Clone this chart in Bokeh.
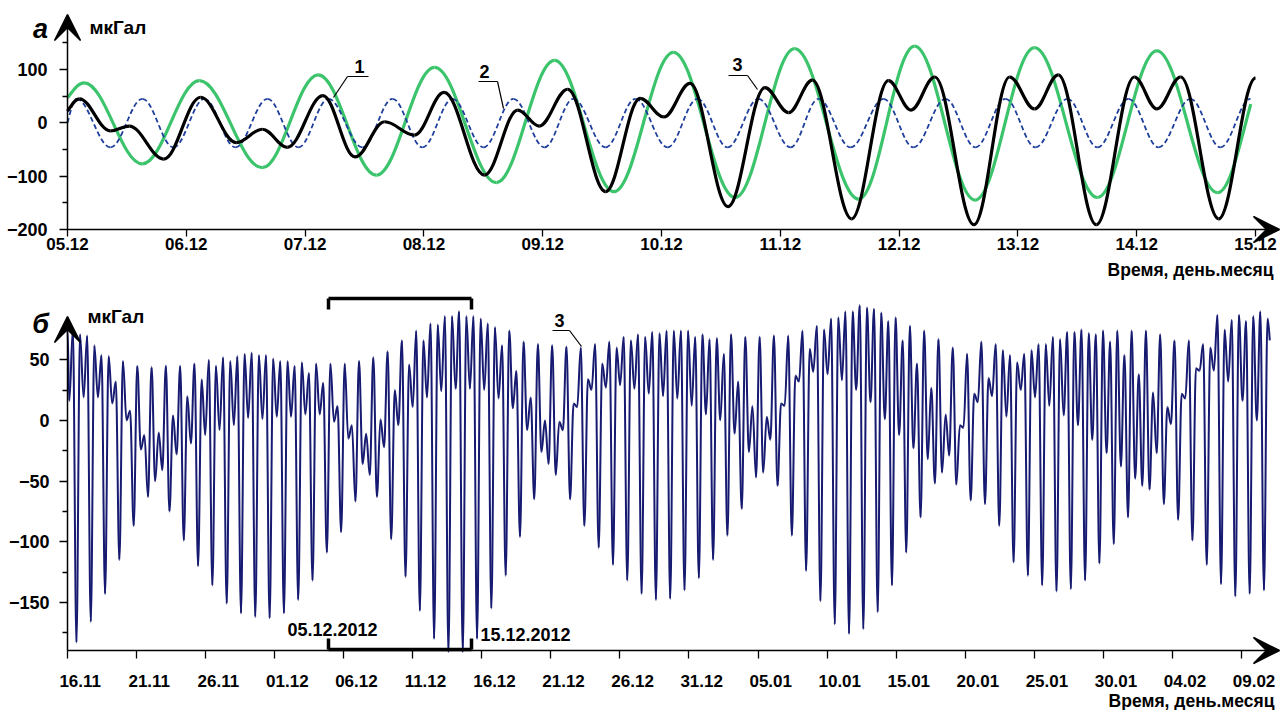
import numpy as np
from bokeh.plotting import figure
from bokeh.layouts import column
from bokeh.models import Arrow, VeeHead, Label, FixedTicker, ColumnDataSource
from bokeh.embed import file_html
from bokeh.resources import INLINE

# ================= panel "а": 05.12 - 15.12 (days from 05.12) =================
top_ticks = list(range(11))
top_tick_labels = ["05.12", "06.12", "07.12", "08.12", "09.12", "10.12",
                   "11.12", "12.12", "13.12", "14.12", "15.12"]

# curve 1 (green) - extrema
green_t = [0.0, 0.14, 0.63, 1.11, 1.64, 2.11, 2.60, 3.09, 3.61, 4.10, 4.60,
           5.10, 5.62, 6.12, 6.66, 7.13, 7.64, 8.14, 8.67, 9.17, 9.68, 9.96]
green_v = [47, 75, -77, 79, -84, 90, -98, 104, -112, 117, -129,
           132, -140, 139, -143, 144, -145, 141, -140, 135, -131, 35]

# curve 2 (blue dashed)
blue_t = [0.0, 0.076, 0.362, 0.631, 0.892, 1.153, 1.414, 1.684, 1.944, 2.197,
          2.483, 2.736, 2.988, 3.241, 3.502, 3.754, 4.015, 4.259, 4.529, 4.781,
          5.051, 5.303, 5.556, 5.816, 6.086, 6.322, 6.591, 6.869, 7.121, 7.391,
          7.643, 7.896, 8.148, 8.418, 8.670, 8.931, 9.184, 9.453, 9.705, 9.958]
blue_v = [0, 45, -46, 45, -46, 45, -46, 45, -46, 45,
          -46, 45, -46, 45, -46, 45, -46, 45, -46, 45,
          -46, 45, -46, 45, -46, 45, -46, 45, -46, 45,
          -46, 45, -46, 45, -46, 45, -46, 45, -46, 45]

# curve 3 (black)
black_t = [0.0, 0.10, 0.36, 0.52, 0.81, 1.12, 1.42, 1.64, 1.85, 2.15,
           2.42, 2.67, 2.92, 3.17, 3.51, 3.79, 3.97, 4.21, 4.53, 4.82,
           5.02, 5.24, 5.56, 5.87, 6.07, 6.27, 6.60, 6.91, 7.10, 7.30,
           7.63, 7.93, 8.14, 8.34, 8.66, 8.98, 9.17, 9.37, 9.69, 10.0]
black_v = [22, 45, -15, -6, -68, 48, -37, -12, -46, 51,
           -64, 2, -23, 57, -98, 24, -6, 63, -129, 46,
           11, 74, -157, 66, 19, 80, -180, 79, 24, 86,
           -191, 86, 26, 90, -191, 86, 26, 86, -180, 84]

# ================= panel "б": 16.11.2012 - 09.02.2013 (days from 16.11) =================
bot_tick_days = [0, 5, 10, 15, 20, 25, 30, 35, 40, 45, 50, 55, 60, 65, 70, 75, 80, 85]
bot_tick_labels = ["16.11", "21.11", "26.11", "01.12", "06.12", "11.12", "16.12",
                   "21.12", "26.12", "31.12", "05.01", "10.01", "15.01", "20.01",
                   "25.01", "30.01", "04.02", "09.02"]
label_shift_days = 0.92          # tick labels sit a little right of their ticks

b_first_low_day = 0.13           # first semidiurnal low
b_semidiurnal = 0.518            # spacing of successive lows (days)
b_start_value = 75
b_end_day, b_end_value = 87.06, 66

# successive semidiurnal lows (мкГал)
b_lows = [16, -183, 19, -166, 19, -143, 14, -115, 0, -87, -24, -63, -50, -41, -75,
          -28, -99, -19, -120, -12, -136, -8, -151, -4, -159, 2, -162, 1, -163,
          3, -159, 3, -148, 5, -132, 5, -109, -1, -92, -15, -67, -36, -45, -63, -22, -98, -4, -129,
          11, -157, 19, -180, 24, -191, 26, -191, 26, -180,
          25, -155, 18, -128, 10,
          -96, -8, -65, -26, -36, -45, -8, -65, 11, -87, 25, -105, 27, -119, 29, -132, 26,
          -143, 22, -148, 20, -147, 18, -140, 12, -130, 5, -115, 0, -95, -11, -73, -26,
          -47, -43, -16, -54,
          12, -95, 32, -124, 40, -149, 38, -168, 33, -176, 25, -172, 15, -158, 1, -136,
          -12, -109, -23, -80, -32, -52, -43, -29, -53, -6, -66, 15, -69, 20, -87, 3,
          -117, 25, -128, 19, -136,
          12, -141, 4, -139, -4, -132, -16, -118, -27, -102, -38, -80, -48, -54, -57, -27,
          -69, -3, -82, 18, -99, 41, -119, 41, -135, 32, -145, 16, -143, 0, -140]
# the high that follows each low
b_highs = [75, 71, 70, 62, 54, 53, 32, 49, 8, 45, -12, 44, -10, 45, 4, 45, 20, 47, 34, 50,
           45, 52, 49, 53, 55, 56, 54, 54,
           51, 49, 49, 45, 48, 39, 47, 31, 47, 12, 47, -4, 49, -11, 52, 1, 57, 25, 66,
           46, 74, 66, 80, 79, 86, 86, 90, 86, 86, 84,
           80, 77, 62, 74, 41,
           65, 19, 63, 0, 62, -1, 61, 14, 60, 34, 63, 47, 65, 60, 69, 66, 71, 69, 73, 72,
           74, 74, 74, 74, 69, 71, 67, 68, 55, 71, 32, 69, 12, 69, 3, 70, 14,
           70, 37, 74, 59, 78, 75, 84, 85, 90, 90, 95, 93, 92, 89, 82, 85, 66, 78, 47, 74,
           27, 67, 5, 60, -4, 55, 22, 65, 35, 63, 58, 54, 48, 55, 58, 63,
           63, 69, 67, 73, 73, 75, 72, 71, 74, 65, 74, 54, 74, 38, 74, 23, 71, 11, 66, 22,
           66, 43, 63, 60, 87, 75, 83, 87, 82, 86, 90, 84]

# ---------------------------------------------------------------------------------
FONT = "Liberation Sans"
GREEN = "#3cc46c"
BLUE = "#1f3f9c"
NAVY = "#161a70"
W = 1280
TOP_H = 290
BOT_H = 420


def bezier_cols(t, v, start_ext=True, end_ext=True):
    """Smooth cosine-like segments between successive extrema."""
    t = np.asarray(t, float)
    v = np.asarray(v, float)
    x0, x1, y0, y1 = t[:-1], t[1:], v[:-1], v[1:]
    d = (x1 - x0) * 0.3634
    cy0, cy1 = y0.copy(), y1.copy()
    if not start_ext:
        cy0[0] = y0[0] + 0.5 * (y1[0] - y0[0])
    if not end_ext:
        cy1[-1] = y1[-1] - 0.5 * (y1[-1] - y0[-1])
    return ColumnDataSource(dict(x0=x0, y0=y0, x1=x1, y1=y1,
                                 cx0=x0 + d, cy0=cy0, cx1=x1 - d, cy1=cy1))


def style_axes(p):
    for ax in (p.xaxis[0], p.yaxis[0]):
        ax.axis_line_color = None
        ax.major_tick_line_color = "black"
        ax.minor_tick_line_color = "black"
        ax.major_tick_line_width = 1.3
        ax.minor_tick_line_width = 1.3
        ax.major_tick_in = 0
        ax.minor_tick_in = 0
        ax.major_label_text_font = FONT
        ax.major_label_text_font_style = "bold"
        ax.major_label_text_font_size = "17px"
        ax.major_label_text_color = "black"
    p.xgrid.visible = False
    p.ygrid.visible = False
    p.outline_line_color = None
    p.background_fill_color = "white"
    p.border_fill_color = "white"


def seg(p, xa, ya, xb, yb, w=1.2):
    p.add_layout(Arrow(end=None, start=None, x_start=xa, y_start=ya, x_end=xb, y_end=yb,
                       line_color="black", line_width=w))


def axis_arrow(p, xa, ya, xb, yb, size):
    p.add_layout(Arrow(end=VeeHead(size=size, fill_color="black", line_color="black", line_width=1.5),
                       x_start=xa, y_start=ya, x_end=xb, y_end=yb,
                       line_color="black", line_width=1.5))


def text(p, x, y, s, size="17px", style="bold", align="left"):
    p.add_layout(Label(x=x, y=y, text=s, text_font=FONT, text_font_style=style,
                       text_font_size=size, text_align=align, text_baseline="middle",
                       text_color="black"))


# ================= top figure (page pixels 0..290) =================
def tx(px):
    return (px - 67) / 118.8


def ty(py):
    return (229 - py) / 0.5333 - 200


top = figure(width=W, height=TOP_H, x_range=(tx(0), tx(W)), y_range=(ty(TOP_H), ty(0)),
             output_backend="svg", toolbar_location=None,
             min_border_left=0, min_border_right=0, min_border_top=0, min_border_bottom=0)
style_axes(top)
top.xaxis.fixed_location = -200
top.yaxis.fixed_location = 0
top.xaxis.ticker = FixedTicker(ticks=top_ticks)
top.xaxis.major_label_overrides = {k: s for k, s in zip(top_ticks, top_tick_labels)}
top.xaxis.major_tick_out = 7
top.xaxis.major_label_standoff = 1
top.yaxis.ticker = FixedTicker(ticks=[-200, -100, 0, 100], minor_ticks=[-150, -50, 50, 150])
top.yaxis.major_tick_out = 8
top.yaxis.minor_tick_out = 5
top.yaxis.major_label_standoff = 12
top.yaxis.major_label_text_font_size = "18px"

top.bezier(source=bezier_cols(green_t, green_v, False, False), x0="x0", y0="y0", x1="x1", y1="y1",
           cx0="cx0", cy0="cy0", cx1="cx1", cy1="cy1", line_color=GREEN, line_width=3.2)
top.bezier(source=bezier_cols(blue_t, blue_v, False, True), x0="x0", y0="y0", x1="x1", y1="y1",
           cx0="cx0", cy0="cy0", cx1="cx1", cy1="cy1", line_color=BLUE, line_width=1.8,
           line_dash="5 3")
top.bezier(source=bezier_cols(black_t, black_v, False, True), x0="x0", y0="y0", x1="x1", y1="y1",
           cx0="cx0", cy0="cy0", cx1="cx1", cy1="cy1", line_color="black", line_width=3.2)

axis_arrow(top, 0, -200, tx(1279), -200, 26)
axis_arrow(top, 0, -200, 0, ty(14), 26)
text(top, tx(40), ty(28), "а", size="27px", style="bold italic", align="center")
text(top, tx(89), ty(27), "мкГал", size="19px")
text(top, tx(1273), ty(269), "Время, день.месяц", size="17.5px", align="right")
text(top, tx(359), ty(66), "1", size="18px", align="center")
seg(top, tx(347), ty(76), tx(368), ty(76))
seg(top, tx(347), ty(76), tx(333), ty(97))
text(top, tx(484), ty(71), "2", size="18px", align="center")
seg(top, tx(478), ty(81), tx(497), ty(81))
seg(top, tx(497), ty(81), tx(503), ty(108))
text(top, tx(737), ty(64), "3", size="18px", align="center")
seg(top, tx(728), ty(75), tx(747), ty(75))
seg(top, tx(747), ty(75), tx(757), ty(89))

# ================= bottom figure (page pixels 290..710) =================
B_Y0 = -189.5


def bx(px):
    return (px - 67) / 13.81


def by(py):
    return B_Y0 + (650 - py) / 1.214


bot = figure(width=W, height=BOT_H, x_range=(bx(0), bx(W)), y_range=(by(TOP_H + BOT_H), by(TOP_H)),
             output_backend="svg", toolbar_location=None,
             min_border_left=0, min_border_right=0, min_border_top=0, min_border_bottom=0)
style_axes(bot)
bot.xaxis.fixed_location = B_Y0
bot.yaxis.fixed_location = 0
lab_pos = [d + label_shift_days for d in bot_tick_days]
bot.xaxis.ticker = FixedTicker(ticks=lab_pos, minor_ticks=bot_tick_days)
bot.xaxis.major_label_overrides = {k: s for k, s in zip(lab_pos, bot_tick_labels)}
bot.xaxis.major_tick_line_color = None
bot.xaxis.major_tick_out = 0
bot.xaxis.minor_tick_out = 8
bot.xaxis.major_label_standoff = 16
bot.yaxis.ticker = FixedTicker(ticks=[-150, -100, -50, 0, 50],
                               minor_ticks=[-175, -125, -75, -25, 25, 75])
bot.yaxis.major_tick_out = 8
bot.yaxis.minor_tick_out = 5
bot.yaxis.major_label_standoff = 10
bot.yaxis.major_label_text_font_size = "18px"

low_days = b_first_low_day + b_semidiurnal * np.arange(len(b_lows))
high_days = low_days + b_semidiurnal / 2
bt = [0.0]
bv = [b_start_value]
for ld, lv, hd, hv in zip(low_days, b_lows, high_days, b_highs):
    bt += [ld, hd]
    bv += [lv, hv]
bt.append(b_end_day)
bv.append(b_end_value)
bot.bezier(source=bezier_cols(bt, bv, True, False), x0="x0", y0="y0", x1="x1", y1="y1",
           cx0="cx0", cy0="cy0", cx1="cx1", cy1="cy1", line_color=NAVY, line_width=2.0)

axis_arrow(bot, 0, B_Y0, bx(1279), B_Y0, 26)
axis_arrow(bot, 0, B_Y0, 0, by(316), 26)
text(bot, bx(40), by(323), "б", size="27px", style="bold italic", align="center")
text(bot, bx(87), by(316), "мкГал", size="19px")
text(bot, bx(1274), by(700), "Время, день.месяц", size="17.5px", align="right")
text(bot, bx(559), by(320), "3", size="18px", align="center")
seg(bot, bx(552), by(330), bx(569), by(330))
seg(bot, bx(569), by(330), bx(581), by(346))
# bracket marking the interval of panel "а"
seg(bot, bx(328), by(298), bx(471), by(298), 3.5)
seg(bot, bx(328), by(298), bx(328), by(309), 3.5)
seg(bot, bx(471), by(298), bx(471), by(309), 3.5)
seg(bot, bx(328), by(649), bx(471), by(649), 3.5)
seg(bot, bx(328), by(649), bx(328), by(638), 3.5)
seg(bot, bx(471), by(649), bx(471), by(638), 3.5)
text(bot, bx(332), by(629), "05.12.2012", size="18px", align="center")
text(bot, bx(480), by(634), "15.12.2012", size="18px", align="left")

layout = column(top, bot)
open("out.html", "w").write(file_html(layout, INLINE))
